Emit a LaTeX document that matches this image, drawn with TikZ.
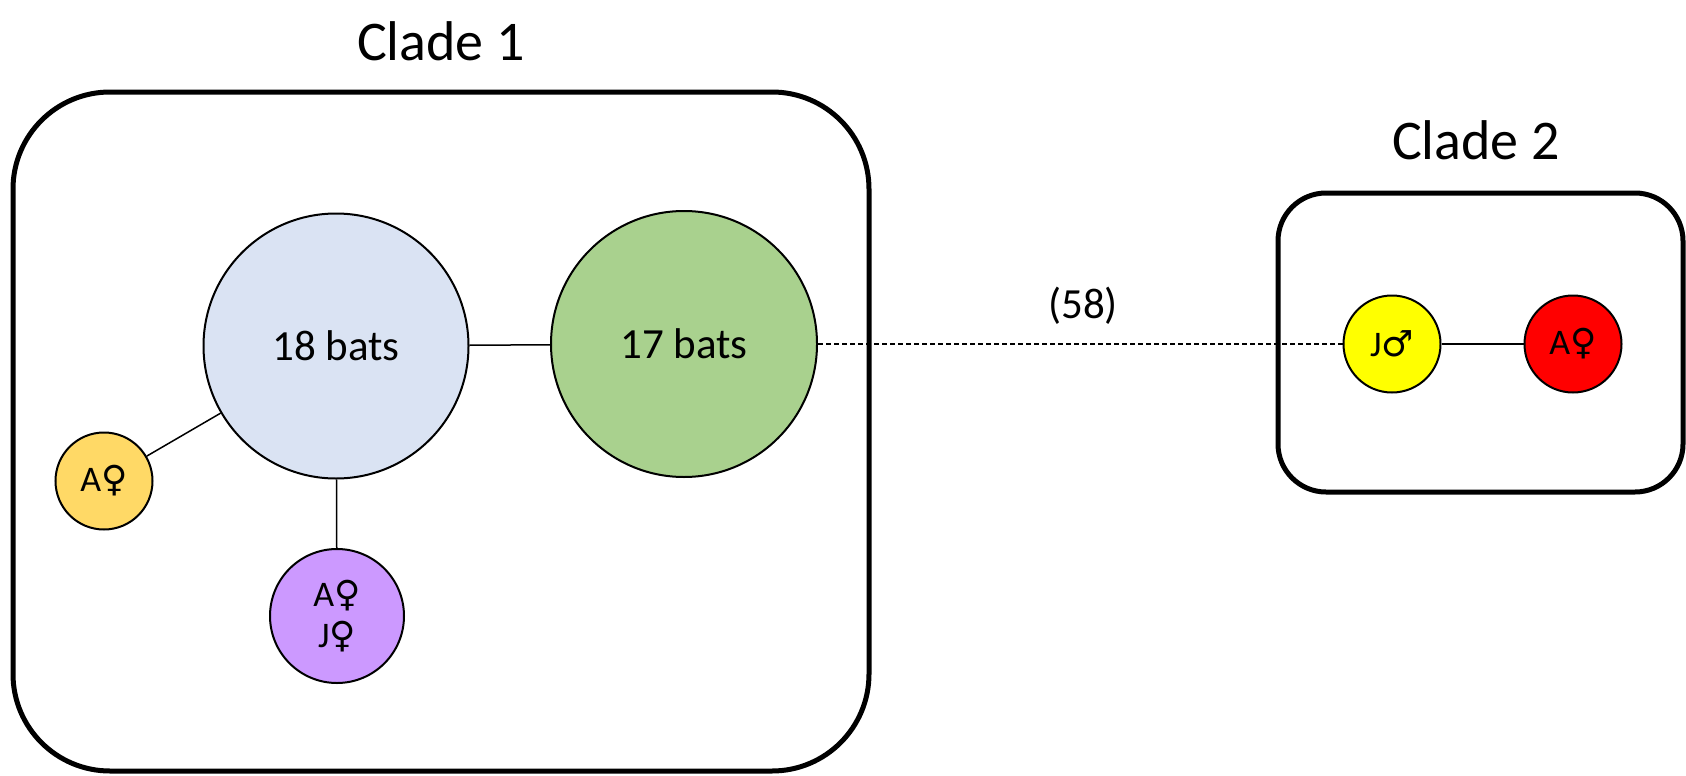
\documentclass[tikz,border=0pt]{standalone}
\usepackage{fontspec}
\setmainfont{Carlito}
\newfontfamily\symfont{DejaVu Sans}
\newcommand{\fem}{{\symfont\char"2640}}
\newcommand{\mal}{{\symfont\char"2642}}
\definecolor{bluefill}{HTML}{DAE3F3}
\definecolor{greenfill}{HTML}{A9D18E}
\definecolor{goldfill}{HTML}{FFD966}
\definecolor{violetfill}{HTML}{CC99FF}
\definecolor{lemonfill}{HTML}{FFFF00}
\definecolor{redfill}{HTML}{FF0000}
\begin{document}
\begin{tikzpicture}[x=1pt,y=-1pt,
  clade/.style={draw=black,line width=5pt},
  hap/.style={circle,draw=black,line width=2pt,inner sep=0pt,align=center,
    font=\fontsize{36}{41}\selectfont},
  bighap/.style={hap,font=\fontsize{43}{50}\selectfont},
  title/.style={font=\fontsize{56}{64}\selectfont,inner sep=0pt},
  link/.style={draw=black,line width=1.5pt},
  farlink/.style={draw=black,line width=2pt,dash pattern=on 5pt off 3pt}]
\useasboundingbox (0,0) rectangle (1686,776);

% clade frames
\draw[clade,rounded corners=97pt] (13,92) rectangle (869,771);
\draw[clade,rounded corners=48pt] (1278,193) rectangle (1683,492);

% titles
\node[title] (t1) at (441,41) {Clade 1};
\node[title] (t2) at (1476,140) {Clade 2};

% haplotypes of clade 1
\node[bighap,fill=bluefill,minimum size=265pt] (h18) at (336,346) {18 bats};
\node[bighap,fill=greenfill,minimum size=266pt] (h17) at (684,344) {17 bats};
\node[hap,fill=goldfill,minimum size=97pt] (ha) at (104,481) {A\fem};
\node[hap,fill=violetfill,minimum size=134pt] (haj) at (337,616) {A\fem\\J\fem};

% haplotypes of clade 2
\node[hap,fill=lemonfill,minimum size=97pt] (hj) at (1392,344) {J\mal};
\node[hap,fill=redfill,minimum size=97pt] (hr) at (1573,344) {A\fem};

% connections
\draw[link] (h18) -- (h17);
\draw[link] (h18) -- (ha);
\draw[link] (h18) -- (haj);
\draw[link] (hj) -- (hr);
\draw[farlink] (h17.east) -- (hj.west);
\node[font=\fontsize{43}{50}\selectfont,inner sep=0pt] (steps) at (1083,306) {(58)};
\end{tikzpicture}
\end{document}
